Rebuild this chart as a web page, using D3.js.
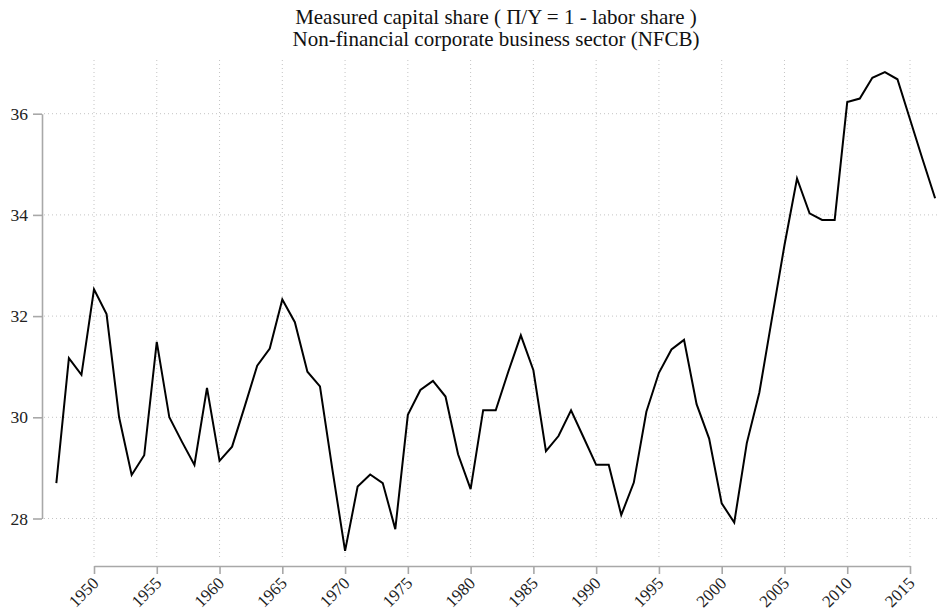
<!DOCTYPE html>
<html>
<head>
<meta charset="utf-8">
<script src="https://cdn.jsdelivr.net/npm/d3@7"></script>
<style>
  body { margin: 0; background: #fff; }
  svg { display: block; font-family: 'Liberation Serif', 'DejaVu Serif', serif; }
  .grid line { stroke: #c4c4c4; stroke-width: 1; stroke-dasharray: 1 3; }
  .axis path, .axis line { stroke: #a8a8a8; stroke-width: 1.6; }
  .axis text { fill: #222; font-family: 'Liberation Serif', serif; }
</style>
</head>
<body>
<div id="chart"></div>
<script>
const years = d3.range(1947, 2018)
const capitalShare = [
  28.70, 31.17, 30.84, 32.53, 32.04, 30.00, 28.86, 29.25, 31.49, 30.00,
  29.52, 29.06, 30.58, 29.14, 29.42, 30.21, 31.02, 31.36, 32.33, 31.88,
  30.90, 30.61, 28.95, 27.36, 28.63, 28.87, 28.70, 27.79, 30.05, 30.54,
  30.72, 30.41, 29.27, 28.58, 30.14, 30.14, 30.90, 31.62, 30.93, 29.33,
  29.63, 30.14, 29.60, 29.06, 29.06, 28.07, 28.71, 30.11, 30.88, 31.34,
  31.53, 30.26, 29.58, 28.30, 27.92, 29.49, 30.49, 31.95, 33.40, 34.72,
  34.03, 33.90, 33.90, 36.23, 36.30, 36.71, 36.82, 36.68, 35.89, 35.10,
  34.33
]
const xTicks = d3.range(1950, 2016, 5)
const yTicks = [28, 30, 32, 34, 36]
const titleLines = [
  'Measured capital share ( \u03A0/Y = 1 - labor share )',
  'Non-financial corporate business sector (NFCB)'
]

const width = 939
const height = 611
const plot = { left: 42, right: 939, top: 60, bottom: 560 }

const data = years.map((y, i) => ({ year: y, value: capitalShare[i] }))

const svg = d3.select('#chart')
  .append('svg')
  .attr('width', width)
  .attr('height', height)

const xScale = d3.scaleLinear()
  .domain([1950, 2015])
  .range([94, 910])

const yScale = d3.scaleLinear()
  .domain([28, 36])
  .range([518.5, 113.7])

// gridlines
const grid = svg.append('g').attr('class', 'grid')
grid.selectAll('line.v')
  .data(xTicks)
  .enter()
  .append('line')
  .attr('x1', d => xScale(d))
  .attr('x2', d => xScale(d))
  .attr('y1', plot.top)
  .attr('y2', plot.bottom)
grid.selectAll('line.h')
  .data(yTicks)
  .enter()
  .append('line')
  .attr('x1', plot.left + 2)
  .attr('x2', plot.right)
  .attr('y1', d => yScale(d))
  .attr('y2', d => yScale(d))

// y axis, the line only spans the tick range
const yAxis = d3.axisLeft(yScale.copy())
  .tickValues(yTicks)
  .tickSizeInner(9)
  .tickSizeOuter(0)
  .tickPadding(5)
const yAxisG = svg.append('g')
  .attr('class', 'axis')
  .attr('transform', `translate(${plot.left}, 0)`)
  .call(yAxis)
yAxisG.selectAll('text').attr('font-size', '17.5px')

// x axis
const xAxis = d3.axisBottom(xScale.copy())
  .tickValues(xTicks)
  .tickFormat(d3.format('d'))
  .tickSizeInner(8)
  .tickSizeOuter(0)
const xAxisG = svg.append('g')
  .attr('class', 'axis')
  .attr('transform', 'translate(0, 566)')
  .call(xAxis)
xAxisG.selectAll('text')
  .attr('font-size', '17px')
  .attr('text-anchor', 'end')
  .attr('dy', '0.35em')
  .attr('y', 0)
  .attr('x', 0)
  .attr('transform', 'translate(1, 14) rotate(-45)')

// line
const line = d3.line()
  .x(d => xScale(d.year))
  .y(d => yScale(d.value))

svg.append('path')
  .datum(data)
  .attr('fill', 'none')
  .attr('stroke', '#000')
  .attr('stroke-width', 2)
  .attr('stroke-linejoin', 'miter')
  .attr('d', line)

// title
svg.append('g')
  .selectAll('text')
  .data(titleLines)
  .enter()
  .append('text')
  .attr('x', 496)
  .attr('y', (d, i) => 24 + i * 22)
  .attr('text-anchor', 'middle')
  .attr('font-size', '21px')
  .attr('fill', '#111')
  .text(d => d)
</script>
</body>
</html>
